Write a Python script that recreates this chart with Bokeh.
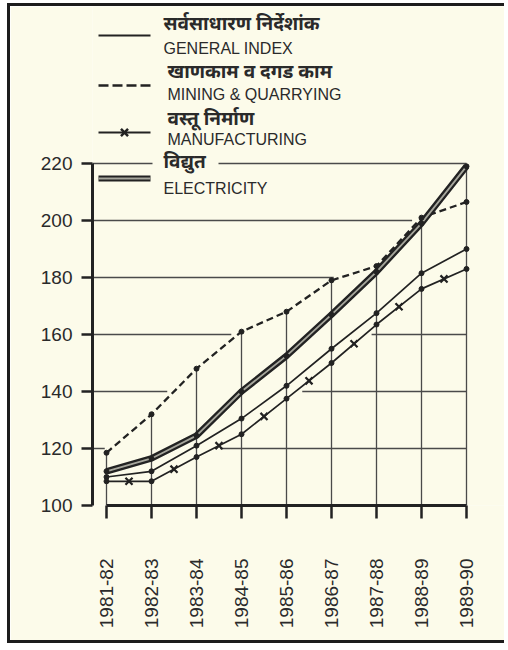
import numpy as np
from bokeh.plotting import figure
from bokeh.models import FixedTicker, Range1d, Label
from bokeh.embed import file_html
from bokeh.resources import INLINE

# ---------------- data ----------------
years = ["1981-82", "1982-83", "1983-84", "1984-85", "1985-86",
         "1986-87", "1987-88", "1988-89", "1989-90"]
general = [110, 112, 121, 130.5, 142, 155, 167.5, 181.5, 190]
mining = [118.5, 132, 148, 161, 168, 179, 184, 201, 206.5]
manufacturing = [108.5, 108.5, 117, 125, 137.5, 150, 163.5, 176, 183]
electricity = [112, 116.5, 124.5, 140, 152.5, 167, 182, 199, 219]
y_ticks = [100, 120, 140, 160, 180, 200, 220]

legend_hi = ["सर्वसाधारण निर्देशांक", "खाणकाम व दगड काम", "वस्तू निर्माण", "विद्युत"]
legend_en = ["GENERAL INDEX", "MINING & QUARRYING", "MANUFACTURING", "ELECTRICITY"]

# ---------------- layout ----------------
OFF_X, OFF_Y = 10, 6       # page position of the canvas (margin + border)
W, H = 497, 640
LEFT = 92 - OFF_X          # y axis position
Y100 = 505 - OFF_Y         # pixel row of value 100
BOTTOM = H - Y100
X0, DX = 106 - OFF_X, 45.0 # pixel of first category, pixels per category
DY = 2.85                  # pixels per index unit
BG = "#FCFBEA"
INK = "#222222"
GRID = "#4a4a4a"
FONT = "Liberation Sans"
HFONT = "Noto Sans"

def dx(page_x):
    return (page_x - OFF_X - X0) / DX

def dy(page_y):
    return 100 + (Y100 - (page_y - OFF_Y)) / DY

x_range = Range1d((LEFT - X0) / DX, (W - X0) / DX)
y_range = Range1d(100, 100 + Y100 / DY)

p = figure(width=W, height=H, x_range=x_range, y_range=y_range,
           output_backend="svg", toolbar_location=None,
           min_border_left=LEFT, min_border_right=0, min_border_top=0,
           min_border_bottom=BOTTOM, background_fill_color=BG,
           border_fill_color=BG, outline_line_color=None)
p.margin = (3, 0, 0, 7)
p.styles = {"border-left": "3px solid #1c1c1c",
            "border-top": "3px solid #1c1c1c",
            "border-bottom": "3px solid #1c1c1c"}
p.grid.visible = False

xa = p.xaxis[0]
xa.ticker = FixedTicker(ticks=list(range(len(years))))
xa.major_label_overrides = {i: y for i, y in enumerate(years)}
xa.major_label_orientation = np.pi / 2
xa.bounds = (0, len(years) - 1)
xa.axis_line_width = 3
xa.axis_line_color = INK
xa.major_tick_out = 13
xa.major_tick_in = 0
xa.major_tick_line_width = 2.5
xa.major_tick_line_color = INK
xa.minor_tick_line_color = None
xa.major_label_standoff = 40
xa.major_label_text_font = FONT
xa.major_label_text_font_size = "19px"
xa.major_label_text_color = "#2a2a2a"

ya = p.yaxis[0]
ya.ticker = FixedTicker(ticks=y_ticks)
ya.bounds = (y_ticks[0], y_ticks[-1])
ya.axis_line_width = 3
ya.axis_line_color = INK
ya.major_tick_out = 11
ya.major_tick_in = 0
ya.major_tick_line_width = 2.5
ya.major_tick_line_color = INK
ya.minor_tick_line_color = None
ya.major_label_standoff = 9
ya.major_label_text_font = FONT
ya.major_label_text_font_size = "19px"
ya.major_label_text_color = "#2a2a2a"

# ---------------- grid segments in the empty areas ----------------
idx = np.arange(len(years), dtype=float)
stack = np.vstack([general, mining, manufacturing, electricity])
upper = stack.max(axis=0)
lower = stack.min(axis=0)
GAP = 0.15
last = idx[-1]
gx0, gx1, gy = [], [], []
for lv in y_ticks[1:]:
    xe = last if lv > upper[-1] else np.interp(lv, upper, idx) - GAP
    if xe > x_range.start:
        gx0.append(x_range.start); gx1.append(xe); gy.append(lv)
    if lv <= lower[-1]:
        xs = np.interp(lv, lower, idx) + GAP
        if xs < last - 0.5:
            gx0.append(xs); gx1.append(last); gy.append(lv)
p.segment(x0=gx0, y0=gy, x1=gx1, y1=gy, line_color=GRID, line_width=1.3)
# vertical drop lines from the highest point of each year
p.segment(x0=idx, y0=[100] * len(idx), x1=idx, y1=upper,
          line_color=GRID, line_width=1.3)

# ---------------- series ----------------
p.line(idx, mining, line_color=INK, line_width=2.3, line_dash="7 4")
p.line(idx, general, line_color=INK, line_width=1.7)
p.line(idx, manufacturing, line_color=INK, line_width=1.7)
mid_x = (idx[:-1] + idx[1:]) / 2
mid_y = (np.array(manufacturing[:-1]) + np.array(manufacturing[1:])) / 2
p.scatter(mid_x, mid_y, marker="x", size=10, line_width=2.2, line_color=INK)
p.line(idx, electricity, line_color=INK, line_width=6.5)
p.line(idx, electricity, line_color="#a6a69c", line_width=1.8)
for s in (general, mining, manufacturing, electricity):
    p.scatter(idx, s, size=5, color=INK)

# ---------------- legend (page pixel positions) ----------------
sx0, sx1 = dx(98), dx(150)
row_line = [35, 85, 132, 178]
p.line([sx0, sx1], [dy(row_line[0])] * 2, line_color=INK, line_width=2)
p.line([sx0, sx1], [dy(row_line[1])] * 2, line_color=INK, line_width=2.5, line_dash="10 4")
p.line([sx0, sx1], [dy(row_line[2])] * 2, line_color=INK, line_width=2)
p.scatter([(sx0 + sx1) / 2], [dy(row_line[2])], marker="x", size=10, line_width=2.5, line_color=INK)
p.line([sx0, sx1], [dy(row_line[3])] * 2, line_color=INK, line_width=6)
p.line([sx0, sx1], [dy(row_line[3])] * 2, line_color="#a6a69c", line_width=1.8)

txt_x = [163, 167, 167, 163]
hi_y = [22, 70, 117, 160]
en_y = [48, 94, 139, 188]
# blank the 220 grid line behind the last Hindi label
p.rect([dx(txt_x[3] + 22)], [dy(hi_y[3])], width=66, height=18,
       width_units="screen", height_units="screen", fill_color=BG, line_color=None)
for i in range(4):
    p.add_layout(Label(x=dx(txt_x[i]), y=dy(hi_y[i]), text=legend_hi[i],
                       text_font=HFONT, text_font_size="19px", text_font_style="bold",
                       text_color="#2a2a2a", text_baseline="middle", text_align="left"))
    p.add_layout(Label(x=dx(txt_x[i]), y=dy(en_y[i]), text=legend_en[i],
                       text_font=FONT, text_font_size="16px",
                       text_color="#2a2a2a", text_baseline="middle", text_align="left"))

open("out.html", "w").write(file_html(p, INLINE))
